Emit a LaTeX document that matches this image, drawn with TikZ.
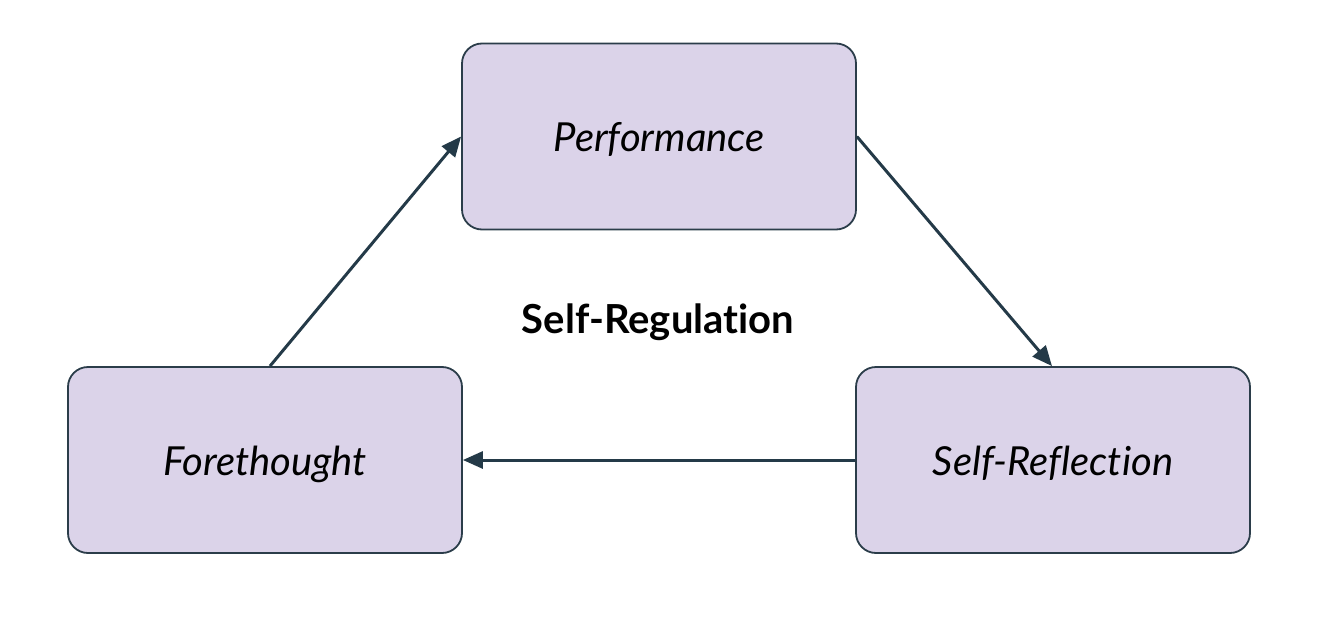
\documentclass[tikz,border=0pt]{standalone}
\usepackage{fontspec}
\setmainfont{Lato}[Ligatures=NoCommon]
\usetikzlibrary{arrows.meta}
\definecolor{boxfill}{HTML}{DBD3E9}
\definecolor{boxline}{HTML}{2B3D4A}
\definecolor{arrowcol}{HTML}{243A48}
\tikzset{
  phase/.style={draw=boxline, fill=boxfill, line width=1.8pt, rounded corners=20pt,
    minimum width=394pt, minimum height=186pt, inner sep=0pt,
    text height=30pt, text depth=0pt,
    font=\fontsize{40}{48}\selectfont\itshape},
  flow/.style={draw=arrowcol, line width=3pt, -{Triangle[length=20pt,width=17pt]}},
}
\begin{document}
\begin{tikzpicture}[x=1pt,y=-1pt]
\useasboundingbox (0,0) rectangle (1320,634);
\node[phase] (perf) at (659,136.5) {Performance};
\node[phase] (fore) at (265,460) {Forethought};
\node[phase] (refl) at (1053,460) {Self-Reflection};
\node[font=\fontsize{40}{48}\selectfont\bfseries, inner sep=0pt, text height=24pt, text depth=0pt] (sr) at (658,321) {Self-Regulation};
\draw[flow] ([xshift=5pt]fore.north) -- (perf.west);
\draw[flow] (perf.east) -- ([xshift=-1pt]refl.north);
\draw[flow] (refl.west) -- (fore.east);
\end{tikzpicture}
\end{document}
